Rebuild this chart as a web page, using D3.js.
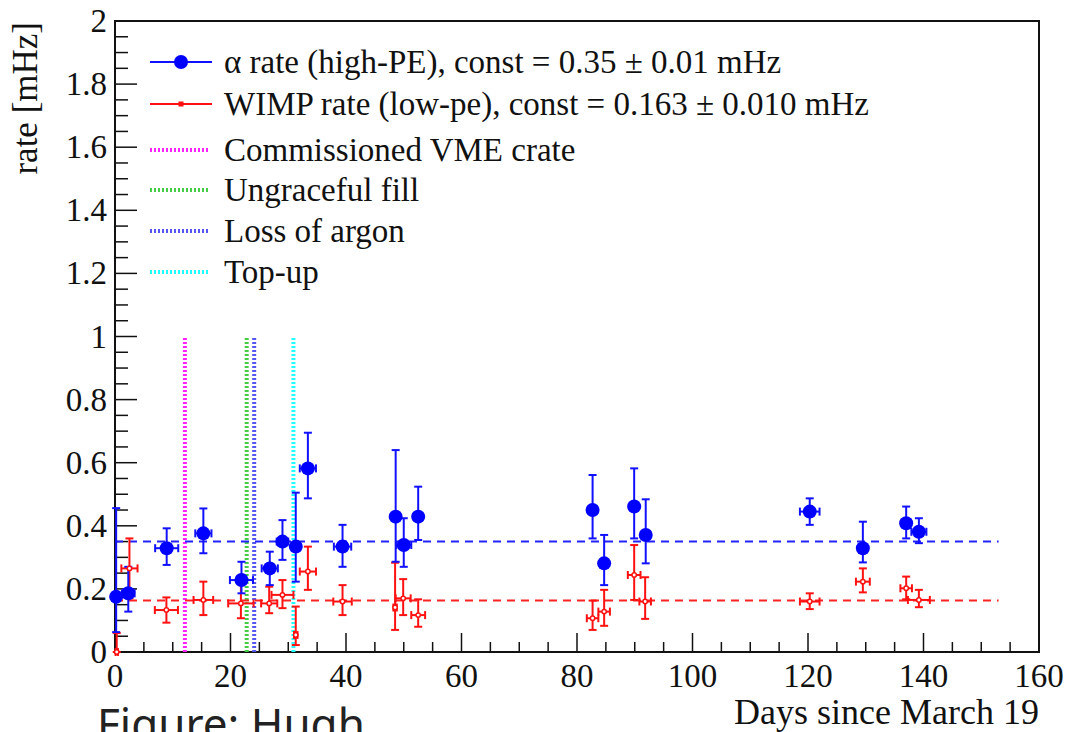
<!DOCTYPE html>
<html>
<head>
<meta charset="UTF-8">
<script src="https://d3js.org/d3.v7.min.js"></script>
<style>
  body { margin: 0; background: #fff; }
  text { font-family: "Liberation Serif", "DejaVu Serif", "Times New Roman", serif; fill: #111; }
</style>
</head>
<body>
<svg width="1067" height="732"></svg>
<script>
// alpha rate (high-PE)
var alphaDay  = [0.2, 2.3, 8.95, 15.3, 21.9, 26.8, 29.0, 31.3, 33.4, 39.4, 48.6, 50.0, 52.5, 82.7, 84.7, 89.9, 91.9, 120.3, 129.5, 137.0, 139.2];
var alphaRate = [0.175, 0.186, 0.329, 0.376, 0.228, 0.265, 0.35, 0.334, 0.582, 0.334, 0.429, 0.339, 0.429, 0.45, 0.281, 0.461, 0.371, 0.445, 0.329, 0.408, 0.381];
var alphaLow  = [0.063, 0.128, 0.276, 0.313, 0.186, 0.212, 0.292, 0.223, 0.487, 0.27, 0.286, 0.27, 0.355, 0.36, 0.212, 0.36, 0.281, 0.403, 0.284, 0.36, 0.345];
var alphaHigh = [0.456, 0.27, 0.392, 0.455, 0.286, 0.318, 0.418, 0.505, 0.695, 0.403, 0.64, 0.424, 0.524, 0.561, 0.371, 0.582, 0.484, 0.487, 0.413, 0.461, 0.424];
var alphaDayErr = [0.2, 1.1, 2, 1.4, 2, 1.4, 1.0, 0.8, 1.4, 1.5, 0.5, 1.3, 0.8, 0.5, 0.5, 0.5, 0.5, 1.7, 0.5, 0.8, 1.3];

// WIMP rate (low-pe)
var wimpDay  = [0.3, 2.5, 8.9, 15.3, 21.8, 26.7, 29.0, 31.3, 33.4, 39.4, 48.5, 49.9, 52.5, 82.7, 84.7, 89.9, 91.8, 120.3, 129.5, 137.0, 139.2];
var wimpRate = [0.0, 0.265, 0.133, 0.165, 0.154, 0.154, 0.181, 0.054, 0.255, 0.16, 0.141, 0.17, 0.117, 0.107, 0.128, 0.244, 0.16, 0.16, 0.223, 0.202, 0.165];
var wimpLow  = [0.0, 0.17, 0.093, 0.117, 0.107, 0.123, 0.139, 0.022, 0.197, 0.117, 0.07, 0.117, 0.08, 0.07, 0.083, 0.165, 0.105, 0.136, 0.189, 0.167, 0.142];
var wimpHigh = [0.06, 0.36, 0.173, 0.223, 0.223, 0.207, 0.228, 0.144, 0.334, 0.212, 0.283, 0.231, 0.167, 0.163, 0.197, 0.339, 0.237, 0.186, 0.265, 0.239, 0.197];
var wimpDayErr = [0.2, 1.4, 2, 1.7, 2.2, 1.4, 1.9, 0.3, 1.4, 1.6, 0.3, 1.3, 1.2, 1, 1, 1.1, 1, 1.7, 1.2, 1, 1.9];

// constant fits
var fitValues = [0.35, 0.163];
var fitColors = ["#2222ff", "#ff2222"];
var fitEnd = 153;

// detector events
var eventNames = ["Commissioned VME crate", "Ungraceful fill", "Loss of argon", "Top-up"];
var eventDays = [12.1, 22.8, 24.1, 30.9];
var eventColors = ["#ff22ff", "#44cc44", "#5555ee", "#22ffff"];
var eventTop = 1;

var legendLabels = ["\u03b1 rate (high-PE), const = 0.35 \u00b1 0.01 mHz",
                    "WIMP rate (low-pe), const = 0.163 \u00b1 0.010 mHz"];

var svg = d3.select("svg");
var x = d3.scaleLinear().domain([0, 160]).range([115, 1039]);
var y = d3.scaleLinear().domain([0, 2]).range([652, 21]);

// frame
svg.append("rect")
    .attr("x", x(0)).attr("y", y(2))
    .attr("width", x(160) - x(0)).attr("height", y(0) - y(2))
    .attr("fill", "none").attr("stroke", "#111").attr("stroke-width", 2);

// x axis ticks
var xg = svg.append("g");
xg.selectAll(".minor").data(d3.range(5, 160, 5))
    .enter().append("line")
    .attr("x1", d => x(d)).attr("x2", d => x(d))
    .attr("y1", y(0)).attr("y2", d => y(0) - (d % 20 === 0 ? 19 : 10))
    .attr("stroke", "#111").attr("stroke-width", 1.5);
xg.selectAll("text").data(d3.range(0, 161, 20))
    .enter().append("text")
    .attr("x", d => x(d)).attr("y", 687)
    .attr("text-anchor", "middle")
    .attr("font-size", "33px")
    .text(d => d);
svg.append("text")
    .attr("x", 1039).attr("y", 724)
    .attr("text-anchor", "end")
    .attr("font-size", "36px")
    .text("Days since March 19");

// y axis ticks
var yg = svg.append("g");
yg.selectAll("line").data(d3.range(1, 40).map(i => i * 0.05))
    .enter().append("line")
    .attr("x1", x(0)).attr("x2", (d, i) => x(0) + ((i + 1) % 4 === 0 ? 22 : 13))
    .attr("y1", d => y(d)).attr("y2", d => y(d))
    .attr("stroke", "#111").attr("stroke-width", 1.5);
yg.selectAll("text").data(d3.range(0, 11).map(i => i * 0.2))
    .enter().append("text")
    .attr("x", 107).attr("y", d => y(d) + 11)
    .attr("text-anchor", "end")
    .attr("font-size", "33px")
    .text(d => d3.format("~g")(+d.toFixed(1)));
svg.append("text")
    .attr("transform", "translate(37,22) rotate(-90)")
    .attr("text-anchor", "end")
    .attr("font-size", "35px")
    .text("rate [mHz]");

// event lines
svg.selectAll(".ev").data(eventDays)
    .enter().append("line")
    .attr("x1", d => x(d)).attr("x2", d => x(d))
    .attr("y1", y(0)).attr("y2", y(eventTop))
    .attr("stroke", (d, i) => eventColors[i])
    .attr("stroke-width", 4)
    .attr("stroke-dasharray", "2,2");

// fit lines
svg.selectAll(".fit").data(fitValues)
    .enter().append("line")
    .attr("x1", x(0)).attr("x2", x(fitEnd))
    .attr("y1", d => y(d)).attr("y2", d => y(d))
    .attr("stroke", (d, i) => fitColors[i])
    .attr("stroke-width", 2)
    .attr("stroke-dasharray", "8,6");

function errorBars(days, rates, lows, highs, dayErrs, color, cap) {
    var g = svg.append("g").attr("stroke", color).attr("stroke-width", 2).attr("fill", "none");
    days.forEach(function(d, i) {
        var cx = x(d), cy = y(rates[i]);
        var yl = y(lows[i]), yh = y(highs[i]);
        var xl = x(d - dayErrs[i]), xh = x(d + dayErrs[i]);
        g.append("line").attr("x1", cx).attr("x2", cx).attr("y1", yl).attr("y2", yh);
        g.append("line").attr("x1", xl).attr("x2", xh).attr("y1", cy).attr("y2", cy);
        g.append("line").attr("x1", cx - cap).attr("x2", cx + cap).attr("y1", yl).attr("y2", yl);
        g.append("line").attr("x1", cx - cap).attr("x2", cx + cap).attr("y1", yh).attr("y2", yh);
        g.append("line").attr("x1", xl).attr("x2", xl).attr("y1", cy - cap).attr("y2", cy + cap);
        g.append("line").attr("x1", xh).attr("x2", xh).attr("y1", cy - cap).attr("y2", cy + cap);
    });
}

errorBars(wimpDay, wimpRate, wimpLow, wimpHigh, wimpDayErr, "#ff1111", 4);
errorBars(alphaDay, alphaRate, alphaLow, alphaHigh, alphaDayErr, "#1111ff", 4);

svg.selectAll(".wimp").data(wimpDay)
    .enter().append("circle")
    .attr("cx", d => x(d)).attr("cy", (d, i) => y(wimpRate[i]))
    .attr("r", 2.2)
    .attr("fill", "#fff").attr("stroke", "#ff1111").attr("stroke-width", 1.5);

svg.selectAll(".alpha").data(alphaDay)
    .enter().append("circle")
    .attr("cx", d => x(d)).attr("cy", (d, i) => y(alphaRate[i]))
    .attr("r", 7)
    .attr("fill", "#0000ff");

// legend
var lg = svg.append("g");
var rowY = [62, 104, 150, 190, 231, 272];
lg.append("line").attr("x1", 150).attr("x2", 212).attr("y1", rowY[0]).attr("y2", rowY[0])
    .attr("stroke", "#1111ff").attr("stroke-width", 2);
lg.append("circle").attr("cx", 181).attr("cy", rowY[0]).attr("r", 7).attr("fill", "#0000ff");
lg.append("line").attr("x1", 150).attr("x2", 212).attr("y1", rowY[1]).attr("y2", rowY[1])
    .attr("stroke", "#ff1111").attr("stroke-width", 2);
lg.append("rect").attr("x", 178.5).attr("y", rowY[1] - 2.5).attr("width", 5).attr("height", 5).attr("fill", "#ff1111");
eventNames.forEach(function(n, i) {
    lg.append("line").attr("x1", 150).attr("x2", 208)
        .attr("y1", rowY[i + 2]).attr("y2", rowY[i + 2])
        .attr("stroke", eventColors[i]).attr("stroke-width", 4)
        .attr("stroke-dasharray", "2,2");
});
legendLabels.concat(eventNames).forEach(function(t, i) {
    lg.append("text").attr("x", 224).attr("y", rowY[i] + 11)
        .attr("font-size", "33px").text(t);
});

// caption
svg.append("text")
    .attr("x", 97).attr("y", 740)
    .style("font-family", "'Noto Sans', sans-serif")
    .attr("font-size", "44px")
    .style("fill", "#222")
    .text("Figure: Hugh");
</script>
</body>
</html>
